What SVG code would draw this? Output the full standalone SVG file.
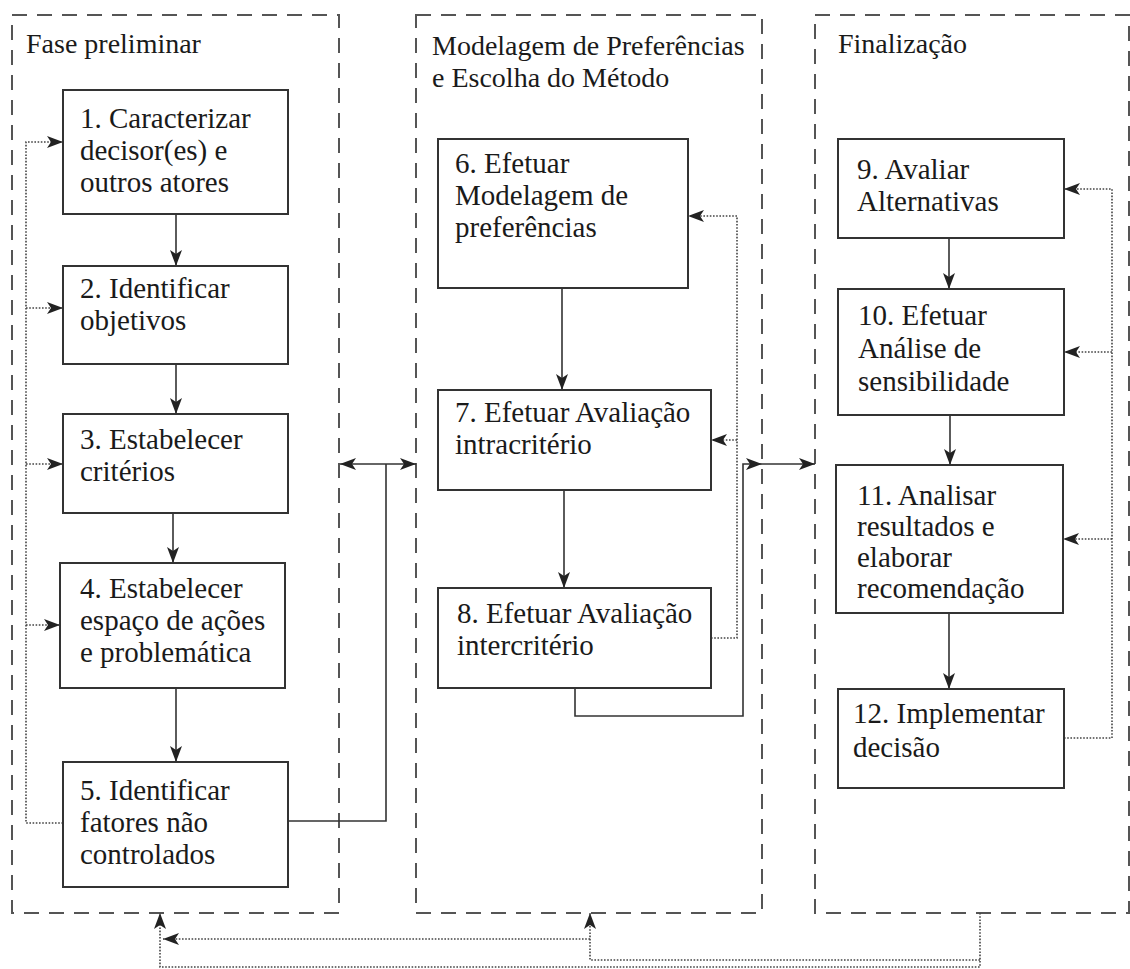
<svg xmlns="http://www.w3.org/2000/svg" width="1130" height="969" viewBox="0 0 1130 969">
<style>
.grp{fill:none;stroke:#555;stroke-width:2;stroke-dasharray:15 10}
.box{fill:#fff;stroke:#333;stroke-width:2}
.t{font-family:"Liberation Serif","DejaVu Serif",serif;font-size:29px;fill:#1a1a1a}
.h{font-family:"Liberation Serif","DejaVu Serif",serif;font-size:28px;fill:#1a1a1a}
.s{fill:none;stroke:#333;stroke-width:1.6}
.d{fill:none;stroke:#444;stroke-width:1.6;stroke-dasharray:1.6 1.6}
</style>
<defs>
<marker id="ah" viewBox="0 0 16 12" refX="16" refY="6" markerWidth="16" markerHeight="12" markerUnits="userSpaceOnUse" orient="auto-start-reverse">
<path d="M0,0 L16,6 L0,12 L4,6 z" fill="#222"/>
</marker>
</defs>

<g id="phase1">
<rect class="grp" x="12" y="15" width="327" height="898"/>
<text class="h" x="26" y="53">Fase preliminar</text>
</g>
<g id="phase2">
<rect class="grp" x="416" y="15" width="346" height="898"/>
<text class="h" x="432" y="55">Modelagem de Preferências</text>
<text class="h" x="432" y="87">e Escolha do Método</text>
</g>
<g id="phase3">
<rect class="grp" x="815" y="15" width="314" height="898"/>
<text class="h" x="838" y="53">Finalização</text>
</g>

<g id="connectors">
<path class="s" d="M176,214 V266" marker-end="url(#ah)"/>
<path class="s" d="M176,364 V414" marker-end="url(#ah)"/>
<path class="s" d="M173,513 V563" marker-end="url(#ah)"/>
<path class="s" d="M176,688 V762" marker-end="url(#ah)"/>
<path class="s" d="M288,821 H386 V464"/>
<path class="s" d="M340,464 H416" marker-start="url(#ah)" marker-end="url(#ah)"/>
<path class="s" d="M562,288 V390" marker-end="url(#ah)"/>
<path class="s" d="M564,490 V588" marker-end="url(#ah)"/>
<path class="s" d="M575,688 V716 H743 V464 H762" marker-end="url(#ah)"/>
<path class="s" d="M762,464 H815" marker-end="url(#ah)"/>
<path class="s" d="M949,238 V289" marker-end="url(#ah)"/>
<path class="s" d="M950,415 V465" marker-end="url(#ah)"/>
<path class="s" d="M949,613 V689" marker-end="url(#ah)"/>

<path class="d" d="M63,823 H26 V142 H63" marker-end="url(#ah)"/>
<path class="d" d="M26,308 H63" marker-end="url(#ah)"/>
<path class="d" d="M26,464 H63" marker-end="url(#ah)"/>
<path class="d" d="M26,625 H60" marker-end="url(#ah)"/>

<path class="d" d="M711,638 H737 V216 H688" marker-end="url(#ah)"/>
<path class="d" d="M737,440 H711" marker-end="url(#ah)"/>

<path class="d" d="M1064,738 H1112 V189 H1064" marker-end="url(#ah)"/>
<path class="d" d="M1112,352 H1064" marker-end="url(#ah)"/>
<path class="d" d="M1112,539 H1063" marker-end="url(#ah)"/>

<path class="d" d="M980,913 V967 H160 V913" marker-end="url(#ah)"/>
<path class="d" d="M980,960 H590 V913" marker-end="url(#ah)"/>
<path class="d" d="M590,939 H163" marker-end="url(#ah)"/>
</g>

<g id="n1">
<rect class="box" x="63" y="90" width="225" height="124"/>
<text class="t" x="80" y="128">1. Caracterizar</text>
<text class="t" x="80" y="160">decisor(es) e</text>
<text class="t" x="80" y="192">outros atores</text>
</g>
<g id="n2">
<rect class="box" x="63" y="266" width="225" height="98"/>
<text class="t" x="80" y="298">2. Identificar</text>
<text class="t" x="80" y="330">objetivos</text>
</g>
<g id="n3">
<rect class="box" x="63" y="414" width="225" height="99"/>
<text class="t" x="80" y="449">3. Estabelecer</text>
<text class="t" x="80" y="481">critérios</text>
</g>
<g id="n4">
<rect class="box" x="60" y="563" width="225" height="125"/>
<text class="t" x="80" y="598">4. Estabelecer</text>
<text class="t" x="80" y="630">espaço de ações</text>
<text class="t" x="80" y="662">e problemática</text>
</g>
<g id="n5">
<rect class="box" x="63" y="762" width="225" height="125"/>
<text class="t" x="80" y="800">5. Identificar</text>
<text class="t" x="80" y="832">fatores não</text>
<text class="t" x="80" y="864">controlados</text>
</g>
<g id="n6">
<rect class="box" x="438" y="139" width="250" height="149"/>
<text class="t" x="455" y="173">6. Efetuar</text>
<text class="t" x="455" y="205">Modelagem de</text>
<text class="t" x="455" y="237">preferências</text>
</g>
<g id="n7">
<rect class="box" x="438" y="390" width="273" height="100"/>
<text class="t" x="455" y="422">7. Efetuar Avaliação</text>
<text class="t" x="455" y="454">intracritério</text>
</g>
<g id="n8">
<rect class="box" x="438" y="588" width="273" height="100"/>
<text class="t" x="457" y="623">8. Efetuar Avaliação</text>
<text class="t" x="457" y="655">intercritério</text>
</g>
<g id="n9">
<rect class="box" x="838" y="139" width="226" height="99"/>
<text class="t" x="857" y="179">9. Avaliar</text>
<text class="t" x="857" y="211">Alternativas</text>
</g>
<g id="n10">
<rect class="box" x="838" y="289" width="226" height="126"/>
<text class="t" x="858" y="325">10. Efetuar</text>
<text class="t" x="858" y="358">Análise de</text>
<text class="t" x="858" y="391">sensibilidade</text>
</g>
<g id="n11">
<rect class="box" x="836" y="465" width="227" height="148"/>
<text class="t" x="857" y="505">11. Analisar</text>
<text class="t" x="857" y="536">resultados e</text>
<text class="t" x="857" y="567">elaborar</text>
<text class="t" x="857" y="598">recomendação</text>
</g>
<g id="n12">
<rect class="box" x="838" y="689" width="226" height="99"/>
<text class="t" x="853" y="723">12. Implementar</text>
<text class="t" x="853" y="757">decisão</text>
</g>
</svg>
